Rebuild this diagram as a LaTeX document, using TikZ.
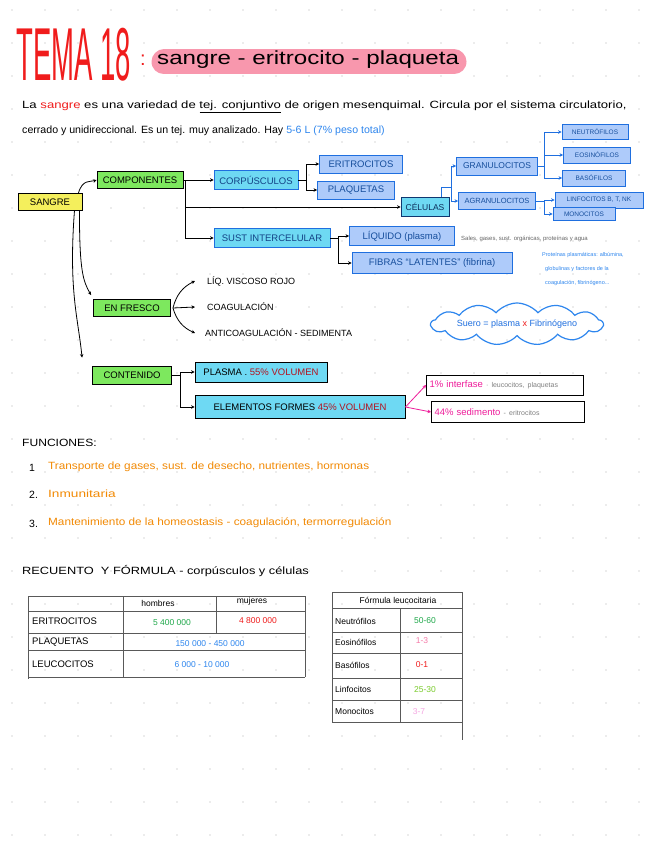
\documentclass[tikz,border=0pt]{standalone}
\usepackage{fontspec}
\setmainfont{Liberation Sans}
\usetikzlibrary{arrows.meta,shapes.symbols}
\definecolor{titlered}{HTML}{F01C1C}
\definecolor{markpink}{HTML}{F7859F}
\definecolor{hlyellow}{HTML}{F4EF5C}
\definecolor{hlgreen}{HTML}{7DE85E}
\definecolor{hlcyan}{HTML}{6ED9F3}
\definecolor{hlblue}{HTML}{AECBFA}
\definecolor{boxblue}{HTML}{1F6FDF}
\definecolor{inkblue}{HTML}{2E86EE}
\definecolor{inkorange}{HTML}{F28A05}
\definecolor{inkmagenta}{HTML}{EE1C9A}
\definecolor{inkdarkred}{HTML}{B3121F}
\definecolor{inkgreen}{HTML}{1FA84A}
\definecolor{inkpink}{HTML}{F57AA8}
\definecolor{inklime}{HTML}{7ACB2C}
\definecolor{inklightpink}{HTML}{F5A6E2}
\begin{document}
\begin{tikzpicture}[x=1pt,y=-1pt,
  box/.style={draw=black,line width=0.9pt,inner sep=1pt,font=\fontsize{9.5}{10}\selectfont},
  yellowbox/.style={box,fill=hlyellow},
  greenbox/.style={box,fill=hlgreen},
  cyanbox/.style={box,fill=hlcyan},
  bluebox/.style={box,fill=hlblue,draw=boxblue,text=boxblue!70!black},
  smallbox/.style={bluebox,font=\fontsize{6.5}{7}\selectfont},
  link/.style={line width=0.8pt,-{Stealth[length=3.5pt,width=3.5pt]}},
  bluelink/.style={link,draw=boxblue},
  pinklink/.style={link,draw=inkmagenta},
  note/.style={anchor=west,inner sep=0pt,font=\fontsize{9}{10}\selectfont},
  line/.style={anchor=west,inner sep=0pt,font=\fontsize{10.5}{11}\selectfont},
  cell/.style={inner sep=0pt,font=\fontsize{8.5}{9}\selectfont},
  rule/.style={gray!70!black,line width=0.7pt}]
\useasboundingbox (0,0) rectangle (656,848);
\fill[white] (0,0) rectangle (656,848);
\foreach \i in {0,...,19}
  \foreach \j in {0,...,25}
    \fill[gray!30] (12+33*\i,10+33*\j) circle (0.9pt);

% titulo
\node[anchor=west,inner sep=0pt,text=titlered] (tema) at (16,55)
  {\scalebox{0.55}[1.5]{\fontsize{50}{50}\selectfont TEMA 18}};
\node[inner sep=0pt,text=titlered,font=\fontsize{20}{20}\selectfont] (dots) at (143,60) {:};
\coordinate (hlA) at (164,62);
\coordinate (hlB) at (454,62);
\draw[markpink,line width=25pt,line cap=round,opacity=0.85] (hlA) -- (hlB);
\node[anchor=west,inner sep=0pt,font=\fontsize{19}{19}\selectfont] (sub) at (157,60) {\scalebox{1.27}[1]{sangre - eritrocito - plaqueta}};

\node[line] (p1) at (22,107) {\scalebox{1.25}[1]{La \textcolor{titlered}{sangre} es una variedad de \underline{tej. conjuntivo} de origen mesenquimal. Circula por el sistema circulatorio,}};
\node[line] (p2) at (22,131) {\scalebox{1.01}[1]{cerrado y unidireccional. Es un tej. muy analizado. Hay \textcolor{inkblue}{5-6 L (7\% peso total)}}};

% esquema
\node[yellowbox,minimum width=64pt,minimum height=17pt] (sangre) at (50,202) {SANGRE};
\node[greenbox,minimum width=86pt,minimum height=17pt] (comp) at (140,180) {COMPONENTES};
\node[cyanbox,draw=boxblue,text=boxblue!60!black,minimum width=84pt,minimum height=19pt] (corp) at (256,180) {CORPÚSCULOS};
\node[bluebox,minimum width=83pt,minimum height=18pt] (eri) at (361,164) {ERITROCITOS};
\node[bluebox,minimum width=77pt,minimum height=18pt] (plaq) at (356,190) {PLAQUETAS};
\node[cyanbox,draw=boxblue!50!black,text=boxblue!40!black,minimum width=48pt,minimum height=19pt,font=\fontsize{8.5}{9}\selectfont] (cel) at (425,207) {CÉLULAS};
\node[bluebox,minimum width=81pt,minimum height=18pt,font=\fontsize{8.5}{9}\selectfont] (gran) at (497,166) {GRANULOCITOS};
\node[bluebox,minimum width=77pt,minimum height=17pt,font=\fontsize{7.5}{8}\selectfont] (agran) at (497,201) {AGRANULOCITOS};
\node[smallbox,minimum width=66pt,minimum height=15pt] (neut) at (595,132) {NEUTRÓFILOS};
\node[smallbox,minimum width=67pt,minimum height=16pt] (eos) at (597,155) {EOSINÓFILOS};
\node[smallbox,minimum width=63pt,minimum height=16pt] (baso) at (594,178) {BASÓFILOS};
\node[smallbox,minimum width=88pt,minimum height=16pt] (linf) at (599,200) {LINFOCITOS B, T, NK};
\node[smallbox,minimum width=62pt,minimum height=13pt] (mono) at (584,214) {MONOCITOS};
\node[cyanbox,draw=boxblue,text=boxblue!60!black,minimum width=116pt,minimum height=19pt] (sust) at (272,238) {SUST INTERCELULAR};
\node[bluebox,minimum width=105pt,minimum height=19pt] (liq) at (402,236) {LÍQUIDO (plasma)};
\node[bluebox,minimum width=160pt,minimum height=21pt] (fib) at (432,263) {FIBRAS ``LATENTES'' (fibrina)};

\node[note,text=gray!80!black,font=\fontsize{6}{7}\selectfont] (sales) at (461,239) {Sales, gases, sust. orgánicas, proteínas y agua};
\node[note,text=inkblue,font=\fontsize{5.5}{6}\selectfont] (prot1) at (542,255) {Proteínas plasmáticas: albúmina,};
\node[note,text=inkblue,font=\fontsize{5.5}{6}\selectfont] (prot2) at (545,269) {globulinas y factores de la};
\node[note,text=inkblue,font=\fontsize{5.5}{6}\selectfont] (prot3) at (545,283) {coagulación, fibrinógeno...};

\draw[link] ([xshift=-4pt]sangre.north east) .. controls +(4,-14) and +(-6,2) .. (comp.west);
\draw[link] (comp.east) -- (corp.west);
\draw[link] ([xshift=2pt]comp.east) |- (cel.west);
\draw[link] ([xshift=2pt]comp.east) |- (sust.west);
\draw[link] (corp.east) -| ([xshift=8pt]corp.east) |- (eri.west);
\draw[link] ([xshift=8pt]corp.east) |- (plaq.west);
\draw[bluelink,-] ([xshift=-8pt]cel.north east) |- ([xshift=-4pt,yshift=10pt]cel.north east) -| ([xshift=-5pt]gran.west);
\draw[bluelink] ([xshift=-5pt]gran.west) |- (gran.west);
\draw[bluelink] ([xshift=-5pt]gran.west) |- (agran.west);
\draw[bluelink] (gran.east) -| ([xshift=6pt]gran.east) |- (neut.west);
\draw[bluelink] ([xshift=6pt]gran.east) |- (eos.west);
\draw[bluelink] ([xshift=6pt]gran.east) |- (baso.west);
\draw[bluelink] (agran.east) -| ([xshift=8pt]agran.east) |- (linf.west);
\draw[bluelink] ([xshift=8pt]agran.east) |- (mono.west);
\draw[link] (sust.east) -| ([xshift=8pt]sust.east) |- (liq.west);
\draw[link] ([xshift=8pt]sust.east) |- (fib.west);

\node[greenbox,minimum width=77pt,minimum height=17pt] (fresco) at (132,308) {EN FRESCO};
\node[note] (visc) at (207,281) {LÍQ. VISCOSO ROJO};
\node[note] (coag) at (207,307) {COAGULACIÓN};
\node[note] (anti) at (205,333) {ANTICOAGULACIÓN - SEDIMENTA};
\draw[link] ([xshift=2pt]fresco.east) to[bend left=25] ([xshift=-12pt]visc.west);
\draw[link] ([xshift=2pt]fresco.east) -- ([xshift=-12pt]coag.west);
\draw[link] ([xshift=2pt]fresco.east) to[bend right=25] ([xshift=-10pt]anti.west);
\draw[link] ([xshift=-3pt]sangre.south east) .. controls +(0,60) and +(-8,-14) .. ([xshift=-2pt,yshift=4pt]fresco.north west);

\node[greenbox,minimum width=79pt,minimum height=18pt] (cont) at (132,375) {CONTENIDO};
\draw[link] ([xshift=-8pt]sangre.south east) .. controls +(-6,80) and +(-4,-40) .. ([xshift=-10pt,yshift=8pt]cont.north west);
\node[cyanbox,minimum width=132pt,minimum height=20pt] (plasma) at (261,372) {PLASMA . \textcolor{inkdarkred}{55\% VOLUMEN}};
\node[cyanbox,minimum width=210pt,minimum height=23pt] (elem) at (300,407) {ELEMENTOS FORMES \textcolor{inkdarkred}{45\% VOLUMEN}};
\draw[link] (cont.east) -| ([xshift=8pt]cont.east) |- (plasma.west);
\draw[link] ([xshift=8pt]cont.east) |- (elem.west);
\node[box,fill=white,minimum width=157pt,minimum height=20pt,text width=151pt,align=left] (inter) at (505,385) {\textcolor{inkmagenta}{1\% interfase} \textcolor{gray}{\fontsize{7}{8}\selectfont · leucocitos, plaquetas}};
\node[box,fill=white,minimum width=153pt,minimum height=21pt,text width=147pt,align=left] (sed) at (508,412) {\textcolor{inkmagenta}{44\% sedimento} \textcolor{gray}{\fontsize{7}{8}\selectfont - eritrocitos}};
\draw[pinklink] (elem.east) -- (inter.west);
\draw[pinklink] (elem.east) -- (sed.west);

\node[cloud,cloud ignores aspect,draw=inkblue,line width=1.2pt,cloud puffs=13,cloud puff arc=100,inner sep=0pt,minimum width=172pt,minimum height=42pt,text=boxblue,font=\fontsize{9}{10}\selectfont] (suero) at (517,324) {Suero = plasma \textcolor{titlered}{x} Fibrinógeno};

% funciones
\node[line] (func) at (22,443) {\scalebox{1.15}[1]{FUNCIONES:}};
\node[line] (n1) at (29,468) {1};
\node[line,text=inkorange] (f1) at (48,467) {\scalebox{1.12}[1]{Transporte de gases, sust. de desecho, nutrientes, hormonas}};
\node[line] (n2) at (29,495) {2.};
\node[line,text=inkorange] (f2) at (48,494) {\scalebox{1.3}[1]{Inmunitaria}};
\node[line] (n3) at (29,524) {3.};
\node[line,text=inkorange] (f3) at (48,523) {\scalebox{1.12}[1]{Mantenimiento de la homeostasis - coagulación, termorregulación}};

% recuento
\node[line] (rec) at (22,571) {\scalebox{1.22}[1]{RECUENTO \ Y FÓRMULA - corpúsculos y células}};
\draw[rule] (28,596) -- (305,596);
\draw[rule] (28,611) -- (305,611);
\draw[rule] (28,633) -- (305,633);
\draw[rule] (28,650) -- (305,650);
\draw[rule] (28,677) -- (305,677);
\draw[rule] (28,596) -- (28,679);
\draw[rule] (123,596) -- (123,677);
\draw[rule] (216,596) -- (216,633);
\draw[rule] (305,596) -- (305,677);
\node[cell] (hom) at (158,603) {hombres};
\node[cell] (muj) at (252,601) {mujeres};
\node[cell,anchor=west,font=\fontsize{9.5}{10}\selectfont] (teri) at (32,621) {ERITROCITOS};
\node[cell,anchor=west,font=\fontsize{9.5}{10}\selectfont] (tplaq) at (32,642) {PLAQUETAS};
\node[cell,anchor=west,font=\fontsize{9.5}{10}\selectfont] (tleu) at (32,664) {LEUCOCITOS};
\node[cell,text=inkgreen] (vh) at (172,623) {5 400 000};
\node[cell,text=titlered] (vm) at (258,621) {4 800 000};
\node[cell,text=inkblue] (vp) at (210,644) {150 000 - 450 000};
\node[cell,text=inkblue] (vl) at (202,665) {6 000 - 10 000};

\draw[rule] (332,592) -- (462,592);
\draw[rule] (332,592) -- (332,722);
\draw[rule] (462,592) -- (462,740);
\foreach \yy in {608,632,653,678,700,722}
  \draw[rule] (332,\yy) -- (462,\yy);
\draw[rule] (400,608) -- (400,722);
\node[cell] (flhead) at (398,600) {Fórmula leucocitaria};
\node[cell,anchor=west] (fneu) at (335,621) {Neutrófilos};
\node[cell,anchor=west] (feos) at (335,642) {Eosinófilos};
\node[cell,anchor=west] (fbas) at (335,665) {Basófilos};
\node[cell,anchor=west] (flin) at (335,689) {Linfocitos};
\node[cell,anchor=west] (fmon) at (335,711) {Monocitos};
\node[cell,text=inkgreen] (pneu) at (425,621) {50-60};
\node[cell,text=inkpink] (peos) at (422,641) {1-3};
\node[cell,text=titlered] (pbas) at (422,665) {0-1};
\node[cell,text=inklime] (plin) at (425,690) {25-30};
\node[cell,text=inklightpink] (pmon) at (419,712) {3-7};
\end{tikzpicture}
\end{document}
